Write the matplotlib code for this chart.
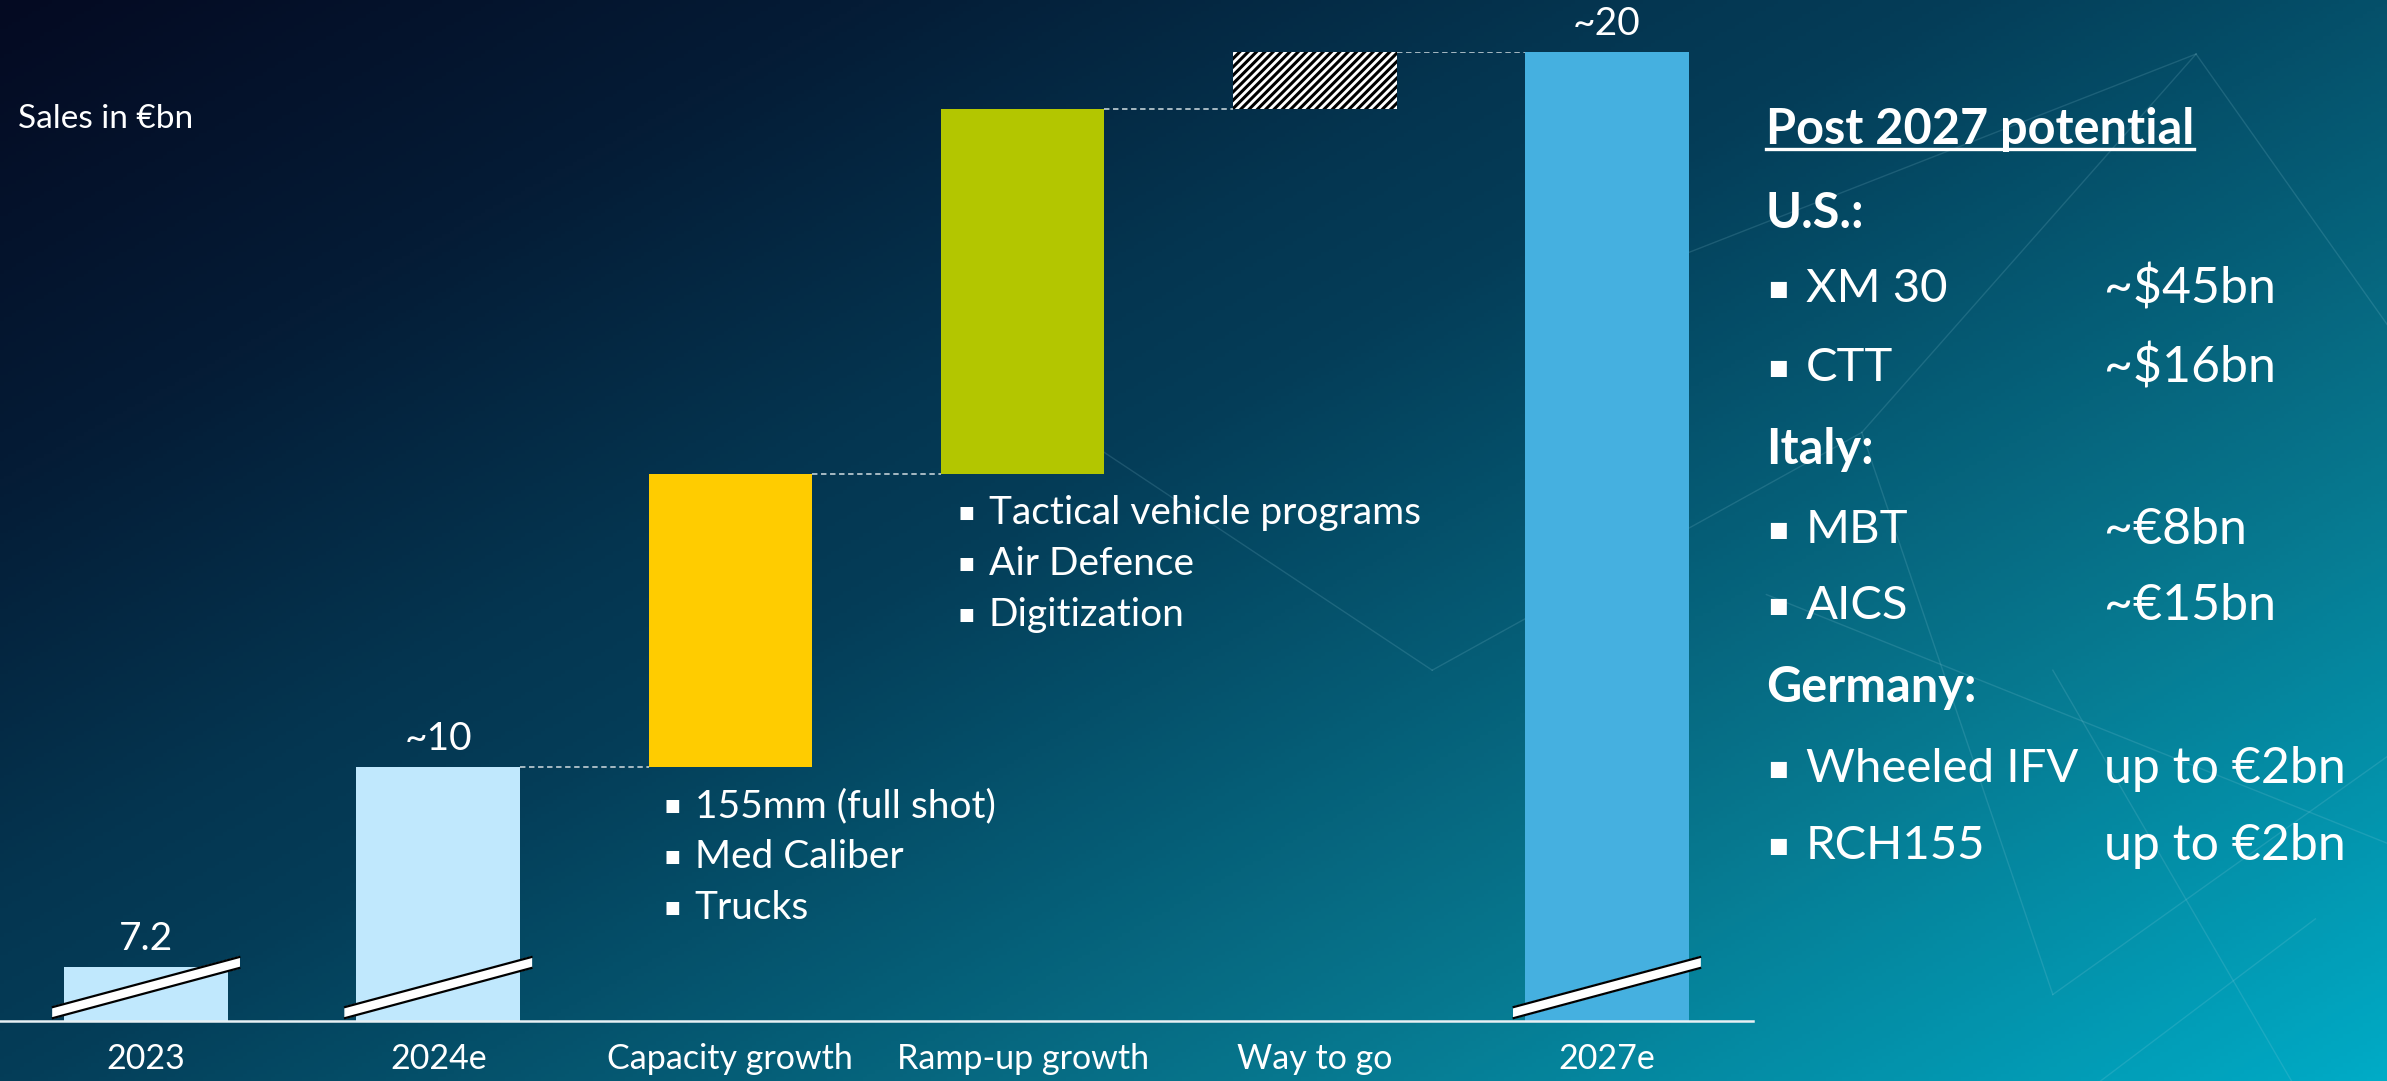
import matplotlib.pyplot as plt
import matplotlib.transforms as mtransforms
from matplotlib.colors import LinearSegmentedColormap
import numpy as np

# waterfall data (sales in EUR bn)
categories = ['2023', '2024e', 'Capacity growth', 'Ramp-up growth', 'Way to go', '2027e']
values = [7.2, 10.0, 4.1, 5.1, 0.8, 20.0]
kinds = ['total', 'total', 'step', 'step', 'step', 'total']
value_labels = ['7.2', '~10', '', '', '', '~20']
bar_colors = ['#c0e8fd', '#c0e8fd', '#ffcc00', '#b3c600', '#ffffff', '#45b0e0']

capacity_items = ['155mm (full shot)', 'Med Caliber', 'Trucks']
rampup_items = ['Tactical vehicle programs', 'Air Defence', 'Digitization']

# post 2027 pipeline
regions = ['U.S.:', 'Italy:', 'Germany:']
programs = [['XM 30', 'CTT'], ['MBT', 'AICS'], ['Wheeled IFV', 'RCH155']]
potentials = [['~$45bn', '~$16bn'], ['~€8bn', '~€15bn'], ['up to €2bn', 'up to €2bn']]

FONT = ['Lato', 'DejaVu Sans']
plt.rcParams['font.family'] = FONT
plt.rcParams['hatch.linewidth'] = 2.2

W, H = 2387, 1081
fig = plt.figure(figsize=(W / 100, H / 100), dpi=100)

# diagonal dark-navy to teal background
bg = fig.add_axes([0, 0, 1, 1], zorder=-10)
gx, gy = np.meshgrid(np.linspace(0, 1, 600), np.linspace(0, 1, 300))
t = 0.55 * gx + 0.45 * gy
cmap = LinearSegmentedColormap.from_list('bg', [
    (0.0, '#040a22'), (0.2, '#051c36'), (0.37, '#043550'), (0.45, '#043d58'),
    (0.55, '#05506a'), (0.75, '#07788f'), (1.0, '#00abc6')])
bg.imshow(t, cmap=cmap, aspect='auto', extent=[0, 1, 1, 0], vmin=0, vmax=1)

# faint network lines in the background
net = [((0.60, 0.62), (0.78, 0.40)), ((0.78, 0.40), (0.92, 0.05)),
       ((0.92, 0.05), (1.0, 0.30)), ((0.78, 0.40), (0.86, 0.92)),
       ((0.86, 0.92), (1.0, 0.70)), ((0.74, 0.55), (1.0, 0.78)),
       ((0.86, 0.62), (0.96, 1.0)), ((0.92, 0.05), (0.70, 0.24)),
       ((0.97, 0.85), (0.88, 1.0)), ((0.45, 0.40), (0.60, 0.62))]
for (xa, ya), (xb, yb) in net:
    bg.plot([xa, xb], [ya, yb], color='#9fd6e4', lw=1.0, alpha=0.16)
bg.set_xlim(0, 1)
bg.set_ylim(1, 0)
bg.axis('off')

ax = fig.add_axes([0, 60 / H, 1753 / W, 969 / H])
ax.patch.set_alpha(0)

x = np.arange(len(categories))
width = 0.56
bottoms, heights = [], []
level = 0
for v, k in zip(values, kinds):
    if k == 'total':
        bottoms.append(0)
        heights.append(v)
        level = v
    else:
        bottoms.append(level)
        heights.append(v)
        level += v
tops = [b + h for b, h in zip(bottoms, heights)]

bars = ax.bar(x, heights, bottom=bottoms, width=width, color=bar_colors, linewidth=0)
bars[4].set_hatch('////')
bars[4].set_edgecolor('black')

# dashed connectors between consecutive bars
for i in range(1, len(x) - 1):
    ax.plot([x[i] + width / 2, x[i + 1] - width / 2], [tops[i], tops[i]],
            ls=(0, (3, 2)), color='#b4c4cc', lw=1.3)

for xi, top, lab in zip(x, tops, value_labels):
    if lab:
        ax.annotate(lab, (xi, top), xytext=(0, 10), textcoords='offset pixels',
                    ha='center', va='bottom', color='white', fontsize=28)

# axis break marks on bars that start below the visible range
brk = mtransforms.blended_transform_factory(ax.transData, ax.transAxes)
for xi, k in zip(x, kinds):
    if k != 'total':
        continue
    x0, x1 = xi - 0.319, xi + 0.319
    ax.fill([x0, x0, x1, x1], [0.003, 0.0144, 0.066, 0.0547], color='white',
            transform=brk, zorder=5, clip_on=False)
    ax.plot([x0, x1], [0.003, 0.0547], color='black', lw=1.6, transform=brk, zorder=6, clip_on=False)
    ax.plot([x0, x1], [0.0144, 0.066], color='black', lw=1.6, transform=brk, zorder=6, clip_on=False)

# bullet lists under the growth bars
for idx, items, dx in [(2, capacity_items, 16), (3, rampup_items, 18)]:
    left = x[idx] - width / 2
    for j, item in enumerate(items):
        dy = -39 - 51 * j
        ax.annotate('■', (left, bottoms[idx]), xytext=(dx, dy), textcoords='offset pixels',
                    ha='left', va='center', color='white', fontsize=12, family='DejaVu Sans')
        ax.annotate(item, (left, bottoms[idx]), xytext=(dx + 30, dy), textcoords='offset pixels',
                    ha='left', va='center', color='white', fontsize=28)

ax.set_xlim(-0.5, 5.5)
ax.set_ylim(6.45, 20)
ax.set_xticks(x)
ax.set_xticklabels(categories, color='white', fontsize=24.5)
ax.tick_params(axis='x', length=0, pad=16)
ax.set_yticks([])
for side in ['top', 'right', 'left']:
    ax.spines[side].set_visible(False)
ax.spines['bottom'].set_color('#e8f0f4')
ax.spines['bottom'].set_linewidth(1.8)

fig.text(18 / W, 1 - 119 / H, 'Sales in €bn', color='white', fontsize=24, va='center')

# right-hand panel
rows_y = [213, 289, 368, 449, 530, 606, 688, 769, 846]
head = fig.text(1766 / W, 1 - 129 / H, 'Post 2027 potential', color='white',
                fontsize=35, fontweight='bold', va='center')
r = 0
for region, progs, pots in zip(regions, programs, potentials):
    fig.text(1766 / W, 1 - rows_y[r] / H, region, color='white', fontsize=35,
             fontweight='bold', va='center')
    r += 1
    for p, v in zip(progs, pots):
        yy = 1 - rows_y[r] / H
        fig.text(1768 / W, yy, '■', color='white', fontsize=15, va='center', family='DejaVu Sans')
        fig.text(1806 / W, yy, p, color='white', fontsize=34, va='center')
        fig.text(2104 / W, yy, v, color='white', fontsize=36, va='center')
        r += 1

# underline the panel heading
fig.canvas.draw()
bb = head.get_window_extent().transformed(fig.transFigure.inverted())
fig.add_artist(plt.Line2D([bb.x0, bb.x1], [bb.y0 + 0.002, bb.y0 + 0.002],
                          color='white', lw=2.4, transform=fig.transFigure))

fig.savefig('out.png', dpi=100)
